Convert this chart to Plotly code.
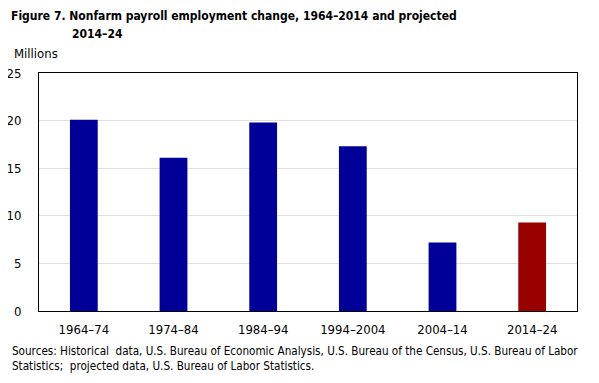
import plotly.graph_objects as go

categories = ["1964–74", "1974–84", "1984–94", "1994–2004", "2004–14", "2014–24"]
values = [20.1, 16.1, 19.8, 17.3, 7.2, 9.3]
colors = ["#000099", "#000099", "#000099", "#000099", "#000099", "#990000"]
y_ticks = [0, 5, 10, 15, 20, 25]

FONT = "DejaVu Sans Condensed"

fig = go.Figure(go.Bar(x=categories, y=values, marker=dict(color=colors, line=dict(width=0)), width=0.31))

# page body has an 8px margin: figure is offset by 8px
OFF = 8
W, H = 599 - OFF, 383 - OFF
ml, mr, mt, mb = 38.5 - OFF, 22, 72.5 - OFF, 72
fig.update_layout(
    width=W, height=H,
    margin=dict(l=ml, r=mr, t=mt, b=mb, pad=0),
    plot_bgcolor="white", paper_bgcolor="white",
    showlegend=False,
    font=dict(family=FONT, size=12, color="#000000"),
)
fig.update_xaxes(
    showline=True, linecolor="black", linewidth=1, mirror=True, automargin=False,
    ticks="", tickfont=dict(size=13, family=FONT), ticklabelstandoff=6,
    showgrid=False,
)
fig.update_yaxes(
    range=[0, 25], tickvals=y_ticks, showline=True, linecolor="black", linewidth=1, mirror=True,
    automargin=False,
    ticks="", tickfont=dict(size=13, family=FONT), ticklabelstandoff=14,
    showgrid=True, gridcolor="#e0e0e0", gridwidth=1, zeroline=False,
)

pw = W - ml - mr
ph = H - mt - mb
def px(X):
    return (X - OFF - ml) / pw
def py(Y):
    return (H - mb - (Y - OFF)) / ph

fig.add_annotation(text="<b>Figure 7. Nonfarm payroll employment change, 1964–2014 and projected</b>",
                   xref="paper", yref="paper", x=px(8), y=py(15), xanchor="left", yanchor="middle",
                   showarrow=False, font=dict(size=12, family=FONT))
fig.add_annotation(text="<b>2014–24</b>",
                   xref="paper", yref="paper", x=px(70), y=py(33), xanchor="left", yanchor="middle",
                   showarrow=False, font=dict(size=12, family=FONT))
fig.add_annotation(text="Millions",
                   xref="paper", yref="paper", x=px(11), y=py(53), xanchor="left", yanchor="middle",
                   showarrow=False, font=dict(size=13, family=FONT))
fig.add_annotation(text="Sources: Historical  data, U.S. Bureau of Economic Analysis, U.S. Bureau of the Census, U.S. Bureau of Labor<br>Statistics;  projected data, U.S. Bureau of Labor Statistics.",
                   xref="paper", yref="paper", x=px(9), y=py(359), xanchor="left", yanchor="middle",
                   align="left", showarrow=False, font=dict(size=11.6, family=FONT))

fig.write_html("out.html")
